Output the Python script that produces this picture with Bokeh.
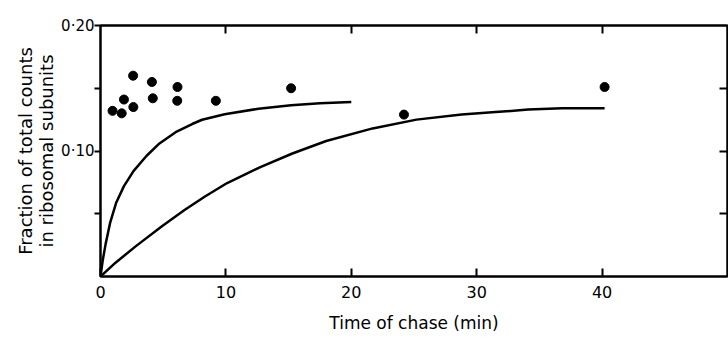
from bokeh.plotting import figure
from bokeh.models import LinearAxis, FixedTicker, Range1d
from bokeh.embed import file_html
from bokeh.resources import INLINE

# Observed data points (time of chase in min, fraction of total counts)
obs_time = [0.96, 1.69, 1.87, 2.62, 2.6, 4.1, 4.17, 6.14, 6.12, 9.2, 15.2, 24.2, 40.2]
obs_frac = [0.132, 0.130, 0.141, 0.135, 0.160, 0.155, 0.142, 0.151, 0.140, 0.140, 0.150, 0.129, 0.151]

# Fast theoretical curve
fast_time = [0, 0.18, 0.41, 0.76, 1.24, 1.87, 2.63, 3.66, 4.7, 5.99, 7.31, 8.1, 9.9,
             12.6, 15.2, 17.5, 20.0]
fast_frac = [0, 0.013, 0.026, 0.0425, 0.0585, 0.072, 0.084, 0.096, 0.106, 0.115, 0.1215,
             0.1249, 0.1293, 0.1337, 0.1364, 0.138, 0.139]

# Slow theoretical curve
slow_time = [0, 1.2, 2.8, 4.9, 6.7, 8.3, 10.1, 12.7, 15.3, 18.0, 21.7, 25.2, 28.8,
             31.5, 34.1, 36.8, 40.2]
slow_frac = [0, 0.011, 0.024, 0.040, 0.053, 0.0635, 0.0745, 0.087, 0.098, 0.108, 0.118,
             0.125, 0.129, 0.131, 0.133, 0.134, 0.134]

x_ticks = [0, 10, 20, 30, 40]
top_ticks = [10, 20, 30, 40]
y_ticks = [0.1, 0.2]
y_tick_labels = {0.1: "0·10", 0.2: "0·20"}
y_minor_ticks = [0.05, 0.15]
right_ticks = [0.05, 0.1, 0.15]

FONT = "DejaVu Sans"

p = figure(width=728, height=339, x_range=Range1d(0, 50), y_range=Range1d(0, 0.2),
           output_backend="svg", toolbar_location=None,
           min_border_left=100, min_border_right=1, min_border_top=25, min_border_bottom=63)
p.grid.visible = False
p.outline_line_color = "black"
p.outline_line_width = 2
p.background_fill_color = "white"
p.border_fill_color = "white"

xa = p.xaxis[0]
xa.ticker = FixedTicker(ticks=x_ticks)
xa.major_tick_in = 8
xa.major_tick_out = 0
xa.minor_tick_line_color = None
xa.axis_line_width = 2
xa.major_tick_line_width = 2
xa.major_label_standoff = 9
xa.major_label_text_font = FONT
xa.major_label_text_font_size = "16px"
xa.major_label_text_color = "black"
xa.axis_label = "Time of chase (min)"
xa.axis_label_text_font = FONT
xa.axis_label_text_font_size = "17px"
xa.axis_label_text_font_style = "normal"
xa.axis_label_text_color = "black"
xa.axis_label_standoff = 12

ya = p.yaxis[0]
ya.ticker = FixedTicker(ticks=y_ticks, minor_ticks=y_minor_ticks)
ya.major_label_overrides = y_tick_labels
ya.major_tick_in = 0
ya.major_tick_out = 6
ya.minor_tick_in = 0
ya.minor_tick_out = 6
ya.minor_tick_line_width = 2
ya.minor_tick_line_color = "black"
ya.axis_line_width = 2
ya.major_tick_line_width = 2
ya.major_label_standoff = 0
ya.major_label_text_font = FONT
ya.major_label_text_font_size = "15px"
ya.major_label_text_color = "black"
ya.axis_label = "Fraction of total counts\nin ribosomal subunits"
ya.axis_label_text_font = FONT
ya.axis_label_text_font_size = "18px"
ya.axis_label_text_line_height = 1.0
ya.axis_label_text_font_style = "normal"
ya.axis_label_text_color = "black"
ya.axis_label_standoff = 1

top = LinearAxis(ticker=FixedTicker(ticks=[], minor_ticks=top_ticks),
                 major_tick_in=0, major_tick_out=0,
                 minor_tick_in=8, minor_tick_out=0, minor_tick_line_width=2,
                 minor_tick_line_color="black", major_label_standoff=0,
                 axis_line_width=2)
p.add_layout(top, "above")
right = LinearAxis(ticker=FixedTicker(ticks=[], minor_ticks=right_ticks),
                   major_tick_in=0, major_tick_out=0,
                   minor_tick_in=8, minor_tick_out=0, minor_tick_line_width=2,
                   minor_tick_line_color="black", major_label_standoff=0,
                   axis_line_width=2)
p.add_layout(right, "right")

p.line(fast_time, fast_frac, line_color="black", line_width=2.5, line_join="round")
p.line(slow_time, slow_frac, line_color="black", line_width=2.5, line_join="round")
p.scatter(obs_time, obs_frac, size=9, fill_color="black", line_color="black")

open("out.html", "w").write(file_html(p, INLINE))
